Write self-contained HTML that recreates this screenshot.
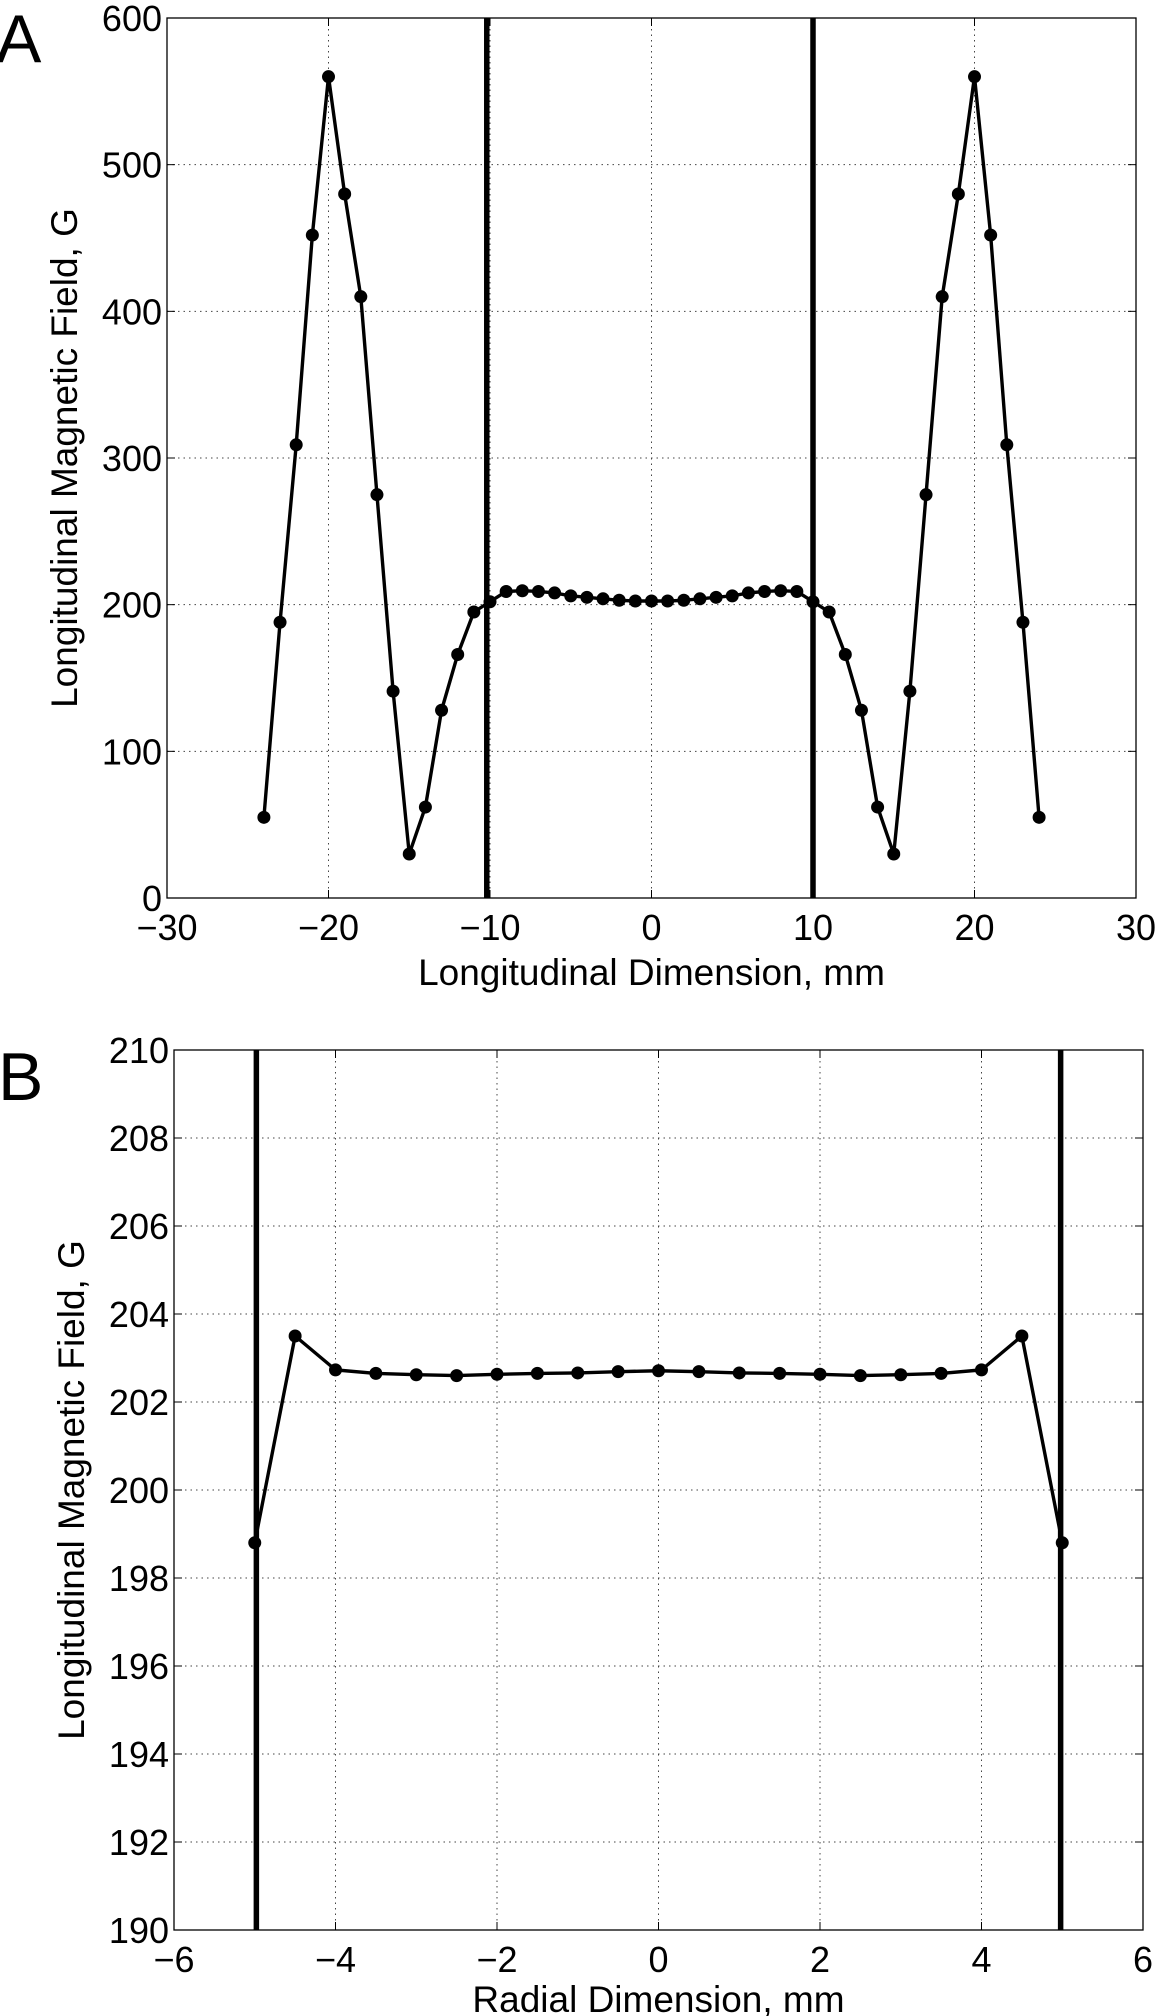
<!DOCTYPE html>
<html><head><meta charset="utf-8"><style>
body{margin:0;background:#fff;}
svg{display:block;font-family:"Liberation Sans",sans-serif;}
</style></head><body>
<svg id="fig" width="1155" height="2016" viewBox="0 0 1155 2016" xmlns="http://www.w3.org/2000/svg">
<rect width="1155" height="2016" fill="#fff"/>
<text x="-4" y="62" font-size="68">A</text>
<text x="-2" y="1100" font-size="68">B</text>
<g id="pa"></g>
<g id="pb"></g>
</svg>
<script>
const aX = [-24,-23,-22,-21,-20,-19,-18,-17,-16,-15,-14,-13,-12,-11,-10,-9,-8,-7,-6,-5,-4,-3,-2,-1,0,1,2,3,4,5,6,7,8,9,10,11,12,13,14,15,16,17,18,19,20,21,22,23,24];
const aY = [55,188,309,452,560,480,410,275,141,30,62,128,166,195,202,209,209.5,209,208,206,205,204,203,202.5,202.5,202.5,203,204,205,206,208,209,209.5,209,202,195,166,128,62,30,141,275,410,480,560,452,309,188,55];
const aVLines = [-10.2,10.0];
const aXTicks = [-30,-20,-10,0,10,20,30];
const aYTicks = [0,100,200,300,400,500,600];
const bX = [-5,-4.5,-4,-3.5,-3,-2.5,-2,-1.5,-1,-0.5,0,0.5,1,1.5,2,2.5,3,3.5,4,4.5,5];
const bY = [198.8,203.5,202.73,202.65,202.62,202.6,202.63,202.65,202.66,202.69,202.71,202.69,202.66,202.65,202.63,202.6,202.62,202.65,202.73,203.5,198.8];
const bVLines = [-4.98,4.98];
const bXTicks = [-6,-4,-2,0,2,4,6];
const bYTicks = [190,192,194,196,198,200,202,204,206,208,210];
const NS='http://www.w3.org/2000/svg';
function mk(parent,tag,attrs,txt){const e=document.createElementNS(NS,tag);for(const k in attrs)e.setAttribute(k,attrs[k]);if(txt!==undefined)e.textContent=txt;parent.appendChild(e);return e;}
function fmt(v){return v<0?'\u2212'+(-v):String(v);}
function draw(g,box,xd,yd,xs,ys,vl,xt,yt,xlabel,ylabel,prefix){
  const sx=v=>box.l+(v-xd[0])/(xd[1]-xd[0])*(box.r-box.l);
  const sy=v=>box.b-(v-yd[0])/(yd[1]-yd[0])*(box.b-box.t);
  xt.forEach(v=>{const x=sx(v);
    if(v!==xd[0]&&v!==xd[1]){const gl=mk(g,'line',{x1:x,x2:x,y1:box.t,y2:box.b,stroke:'#444','stroke-width':1,'stroke-dasharray':'1.5,4'});
    
    
    mk(g,'line',{x1:x,x2:x,y1:box.b,y2:box.b-8,stroke:'#000','stroke-width':1});mk(g,'line',{x1:x,x2:x,y1:box.t,y2:box.t+8,stroke:'#000','stroke-width':1});}
    const t=mk(g,'text',{x:x,y:box.b+42,'font-size':36,'text-anchor':'middle'},fmt(v));
    
    
  });
  yt.forEach(v=>{const y=sy(v);
    if(v!==yd[0]&&v!==yd[1]){const gl=mk(g,'line',{x1:box.l,x2:box.r,y1:y,y2:y,stroke:'#444','stroke-width':1,'stroke-dasharray':'1.5,4'});
    
    
    mk(g,'line',{x1:box.l,x2:box.l+8,y1:y,y2:y,stroke:'#000','stroke-width':1});mk(g,'line',{x1:box.r,x2:box.r-8,y1:y,y2:y,stroke:'#000','stroke-width':1});}
    const t=mk(g,'text',{x:box.l-5,y:y+13,'font-size':36,'text-anchor':'end'},fmt(v));
    
    
  });
  const fr=mk(g,'rect',{x:box.l,y:box.t,width:box.r-box.l,height:box.b-box.t,fill:'none',stroke:'#000','stroke-width':1.3});
  
  
  vl.forEach(v=>{const l=mk(g,'line',{x1:sx(v),x2:sx(v),y1:box.t,y2:box.b,stroke:'#000','stroke-width':5.5});
    
    });
  const p=mk(g,'polyline',{points:xs.map((x,i)=>sx(x)+','+sy(ys[i])).join(' '),fill:'none',stroke:'#000','stroke-width':3.4,'stroke-linejoin':'round'});
  
  
  xs.forEach((x,i)=>{const c=mk(g,'circle',{cx:sx(x),cy:sy(ys[i]),r:6.5,fill:'#000'});
    
    });
  const xl=mk(g,'text',{x:(box.l+box.r)/2,y:box.b+ (prefix==='a'?87:82),'font-size':37,'text-anchor':'middle'},xlabel);
  
  
  const cy=(box.t+box.b)/2;
  const yl=mk(g,'text',{x:0,y:0,'font-size':37,'text-anchor':'middle',transform:'translate('+(box.l-90)+','+cy+') rotate(-90)'},ylabel);
  
  
}
draw(document.getElementById('pa'),{l:167,r:1136,t:18,b:898},[-30,30],[0,600],aX,aY,aVLines,aXTicks,aYTicks,'Longitudinal Dimension, mm','Longitudinal Magnetic Field, G','a');
draw(document.getElementById('pb'),{l:174,r:1143,t:1050,b:1930},[-6,6],[190,210],bX,bY,bVLines,bXTicks,bYTicks,'Radial Dimension, mm','Longitudinal Magnetic Field, G','b');
</script>
</body></html>
